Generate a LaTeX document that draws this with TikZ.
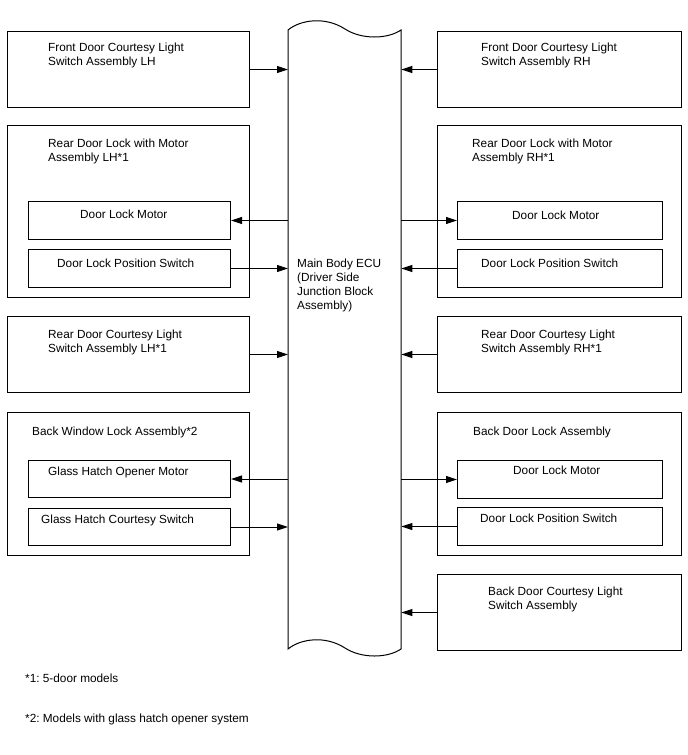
\documentclass[tikz,border=0pt]{standalone}
\usepackage{fontspec}
\setmainfont{Liberation Sans}
\usepackage{tikz}
\usetikzlibrary{arrows.meta}
\frenchspacing

\begin{document}
\begin{tikzpicture}[
    x=1pt, y=-1pt,
    unit/.style={draw, line width=1pt, anchor=north west, inner sep=0pt,
                 minimum width=242, minimum height=76},
    part/.style={draw, line width=1pt, anchor=north west, inner sep=0pt,
                 minimum width=202, minimum height=38},
    txt/.style={anchor=base west, align=left, inner sep=0pt,
                font=\fontsize{11.8}{14.2}\selectfont},
    arr/.style={-{Triangle[length=11pt, width=7pt]}, line width=1pt}
]
  \useasboundingbox (0,0) rectangle (688,755);

  % main body ECU
  \node[anchor=north west, inner sep=0pt, minimum width=113, minimum height=619] (ecu) at (288,30) {};
  \draw[line width=1pt] (288,30) .. controls (300,20) and (325,16) .. (345,29)
        .. controls (362,40) and (388,39) .. (401,30) -- (401,649)
        .. controls (388,658) and (362,659) .. (345,648)
        .. controls (325,635) and (300,639) .. (288,649) -- cycle;
  \node[txt] (ecuT) at (297,309.6) {Main Body ECU\\(Driver Side\\Junction Block\\Assembly)};

  % left side
  \node[unit] (lfront) at (7,31) {};
  \node[txt] (lfrontT) at (48,65.2) {Front Door Courtesy Light\\Switch Assembly LH};

  \node[unit, minimum height=172] (lrear) at (7,125) {};
  \node[txt] (lrearT) at (48,161.2) {Rear Door Lock with Motor\\Assembly LH*1};
  \node[part] (lrearMot) at (28,201) {};
  \node[txt] (lrearMotT) at (80,218) {Door Lock Motor};
  \node[part] (lrearSw) at (28,249) {};
  \node[txt] (lrearSwT) at (57,267) {Door Lock Position Switch};

  \node[unit] (lcour) at (7,316) {};
  \node[txt] (lcourT) at (48,352.2) {Rear Door Courtesy Light\\Switch Assembly LH*1};

  \node[unit, minimum height=143] (lback) at (7,412) {};
  \node[txt] (lbackT) at (32,435) {Back Window Lock Assembly*2};
  \node[part, minimum height=37] (lbackMot) at (28,460) {};
  \node[txt] (lbackMotT) at (48,475) {Glass Hatch Opener Motor};
  \node[part, minimum height=37] (lbackSw) at (28,508) {};
  \node[txt] (lbackSwT) at (41,523) {Glass Hatch Courtesy Switch};

  % right side
  \node[unit, minimum width=244] (rfront) at (437,31) {};
  \node[txt] (rfrontT) at (481,65.2) {Front Door Courtesy Light\\Switch Assembly RH};

  \node[unit, minimum width=244, minimum height=172] (rrear) at (437,125) {};
  \node[txt] (rrearT) at (472,161.2) {Rear Door Lock with Motor\\Assembly RH*1};
  \node[part, minimum width=205] (rrearMot) at (457,201) {};
  \node[txt] (rrearMotT) at (512,219) {Door Lock Motor};
  \node[part, minimum width=205] (rrearSw) at (457,249) {};
  \node[txt] (rrearSwT) at (481,267) {Door Lock Position Switch};

  \node[unit, minimum width=244] (rcour) at (437,316) {};
  \node[txt] (rcourT) at (481,352.2) {Rear Door Courtesy Light\\Switch Assembly RH*1};

  \node[unit, minimum width=244, minimum height=143] (rback) at (437,412) {};
  \node[txt] (rbackT) at (473,435) {Back Door Lock Assembly};
  \node[part, minimum width=205] (rbackMot) at (457,460) {};
  \node[txt] (rbackMotT) at (513,474) {Door Lock Motor};
  \node[part, minimum width=205] (rbackSw) at (457,507) {};
  \node[txt] (rbackSwT) at (480,522) {Door Lock Position Switch};

  \node[unit, minimum width=244] (rbcour) at (437,574) {};
  \node[txt] (rbcourT) at (488,609.2) {Back Door Courtesy Light\\Switch Assembly};

  % signals
  \draw[arr] (lfront.east) -- (lfront.east -| ecu.west);
  \draw[arr] (lrearMot.east -| ecu.west) -- (lrearMot.east);
  \draw[arr] (lrearSw.east) -- (lrearSw.east -| ecu.west);
  \draw[arr] (lcour.east) -- (lcour.east -| ecu.west);
  \draw[arr] (lbackMot.east -| ecu.west) -- (lbackMot.east);
  \draw[arr] (lbackSw.east) -- (lbackSw.east -| ecu.west);

  \draw[arr] (rfront.west) -- (rfront.west -| ecu.east);
  \draw[arr] (rrearMot.west -| ecu.east) -- (rrearMot.west);
  \draw[arr] (rrearSw.west) -- (rrearSw.west -| ecu.east);
  \draw[arr] (rcour.west) -- (rcour.west -| ecu.east);
  \draw[arr] (rbackMot.west -| ecu.east) -- (rbackMot.west);
  \draw[arr] (rbackSw.west) -- (rbackSw.west -| ecu.east);
  \draw[arr] (rbcour.west) -- (rbcour.west -| ecu.east);

  % notes
  \node[txt] (note1) at (25,682) {*1: 5-door models};
  \node[txt] (note2) at (25,722) {*2: Models with glass hatch opener system};
\end{tikzpicture}
\end{document}
